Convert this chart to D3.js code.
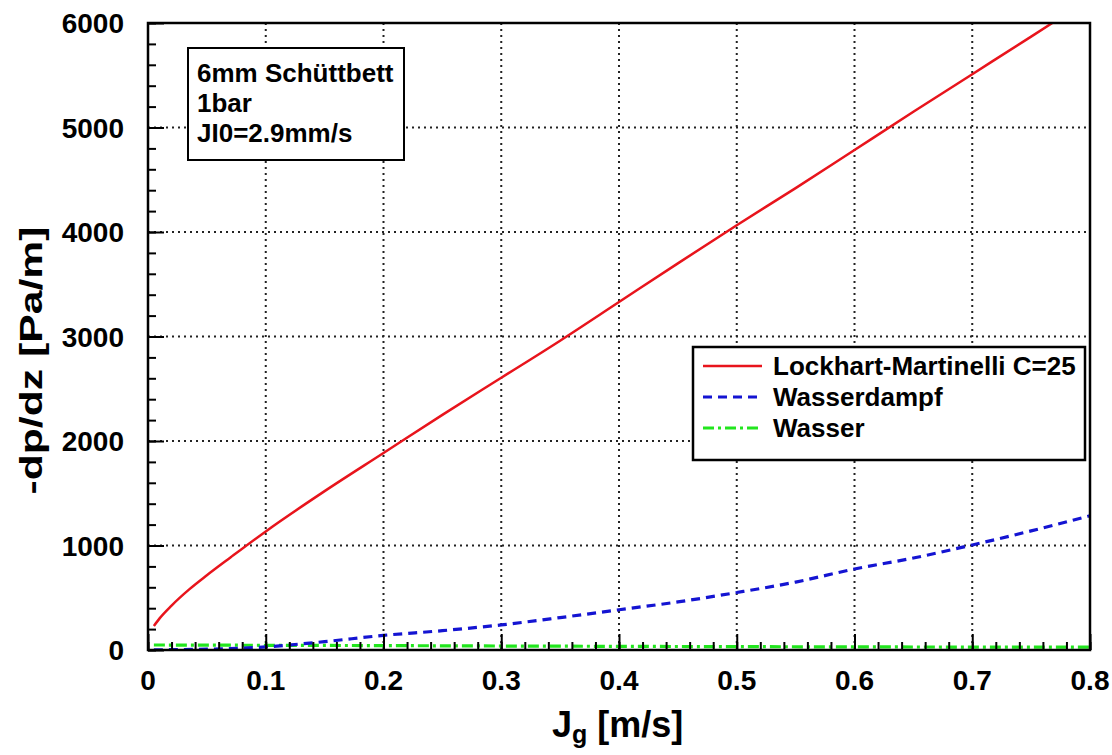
<!DOCTYPE html>
<html>
<head>
<meta charset="utf-8">
<script src="https://cdn.jsdelivr.net/npm/d3@7"></script>
<style>
  body { margin: 0; background: #fff; }
  text { font-family: "Liberation Sans", Arial, sans-serif; font-weight: bold; fill: #000; }
</style>
</head>
<body>
<script>
// Lockhart-Martinelli C=25
let lmX = [0.005, 0.01, 0.02, 0.035, 0.05, 0.07, 0.1, 0.15, 0.2, 0.25, 0.3, 0.35, 0.4, 0.45, 0.5, 0.55, 0.6, 0.65, 0.7, 0.75, 0.768]
let lmY = [230, 305, 425, 580, 715, 885, 1135, 1520, 1885, 2250, 2605, 2960, 3330, 3700, 4065, 4420, 4785, 5150, 5510, 5870, 6000]

// Wasserdampf
let dampfX = [0.005, 0.05, 0.1, 0.15, 0.2, 0.25, 0.3, 0.35, 0.4, 0.45, 0.5, 0.55, 0.6, 0.65, 0.7, 0.75, 0.8]
let dampfY = [2, 8, 30, 80, 140, 185, 240, 310, 385, 460, 550, 650, 775, 880, 1005, 1140, 1285]

// Wasser
let wasserX = [0.005, 0.1, 0.2, 0.3, 0.4, 0.5, 0.6, 0.7, 0.8]
let wasserY = [48, 45, 42, 38, 35, 32, 30, 28, 27]

let xTicks = [0, 0.1, 0.2, 0.3, 0.4, 0.5, 0.6, 0.7, 0.8]
let yTicks = [0, 1000, 2000, 3000, 4000, 5000, 6000]

let seriesNames = ['Lockhart-Martinelli C=25', 'Wasserdampf', 'Wasser']
let infoLines = ['6mm Schüttbett', '1bar', 'JI0=2.9mm/s']

let width = 1112, height = 755
let margin = { top: 23, bottom: 105, left: 148, right: 22 }

let svg = d3.select('body')
            .append('svg')
            .attr('width', width)
            .attr('height', height)

let xScale = d3.scaleLinear()
              .domain([0, 0.8])
              .range([margin.left, width - margin.right])

let yScale = d3.scaleLinear()
              .domain([0, 6000])
              .range([height - margin.bottom, margin.top])

// dotted grid
svg.append('g')
  .selectAll('line')
  .data(xTicks.slice(1, -1))
  .join('line')
  .attr('x1', d => xScale(d)).attr('x2', d => xScale(d))
  .attr('y1', yScale(6000)).attr('y2', yScale(0))
  .attr('stroke', '#222').attr('stroke-width', 2)
  .attr('stroke-dasharray', '2,4')

svg.append('g')
  .selectAll('line')
  .data(yTicks.slice(1, -1))
  .join('line')
  .attr('y1', d => yScale(d)).attr('y2', d => yScale(d))
  .attr('x1', xScale(0)).attr('x2', xScale(0.8))
  .attr('stroke', '#222').attr('stroke-width', 2)
  .attr('stroke-dasharray', '2,4')

// curves
svg.append('clipPath').attr('id', 'plot')
  .append('rect')
  .attr('x', xScale(0)).attr('y', yScale(6000))
  .attr('width', xScale(0.8) - xScale(0))
  .attr('height', yScale(0) - yScale(6000))

let line = d3.line()
            .x(d => xScale(d[0]))
            .y(d => yScale(d[1]))
            .curve(d3.curveMonotoneX)

let styles = [
  { color: '#e8141c', dash: null, w: 2.5 },
  { color: '#1414d2', dash: '9,6', w: 3.2 },
  { color: '#22e61e', dash: '11,4,3,4', w: 3.2 }
]

let series = [
  d3.zip(lmX, lmY),
  d3.zip(dampfX, dampfY),
  d3.zip(wasserX, wasserY)
]

let plot = svg.append('g').attr('clip-path', 'url(#plot)')
series.slice().reverse().forEach((s, i) => {
  let st = styles[2 - i]
  plot.append('path')
    .datum(s)
    .attr('d', line)
    .attr('fill', 'none')
    .attr('stroke', st.color)
    .attr('stroke-width', st.w)
    .attr('stroke-dasharray', st.dash)
})

// axes with inward ticks
let xMinor = d3.range(0, 0.8001, 0.02)
let yMinor = d3.range(0, 6001, 200)

svg.append('g')
  .attr('transform', `translate(0, ${yScale(0)})`)
  .call(d3.axisTop(xScale).tickValues(xMinor).tickSize(8).tickFormat(''))
  .call(g => g.select('.domain').remove())
  .call(g => g.selectAll('line').attr('stroke-width', 2))

svg.append('g')
  .attr('transform', `translate(0, ${yScale(0)})`)
  .call(d3.axisTop(xScale).tickValues(xTicks).tickSize(16).tickFormat(''))
  .call(g => g.select('.domain').remove())
  .call(g => g.selectAll('line').attr('stroke-width', 2))

svg.append('g')
  .attr('transform', `translate(${xScale(0)}, 0)`)
  .call(d3.axisRight(yScale).tickValues(yMinor).tickSize(8).tickFormat(''))
  .call(g => g.select('.domain').remove())
  .call(g => g.selectAll('line').attr('stroke-width', 2))

svg.append('g')
  .attr('transform', `translate(${xScale(0)}, 0)`)
  .call(d3.axisRight(yScale).tickValues(yTicks).tickSize(16).tickFormat(''))
  .call(g => g.select('.domain').remove())
  .call(g => g.selectAll('line').attr('stroke-width', 2))

// frame
svg.append('rect')
  .attr('x', xScale(0)).attr('y', yScale(6000))
  .attr('width', xScale(0.8) - xScale(0))
  .attr('height', yScale(0) - yScale(6000))
  .attr('fill', 'none').attr('stroke', '#000').attr('stroke-width', 2.5)

// tick labels
svg.append('g')
  .selectAll('text')
  .data(xTicks)
  .join('text')
  .attr('x', d => xScale(d))
  .attr('y', yScale(0) + 40)
  .attr('text-anchor', 'middle')
  .style('font-size', '28px')
  .text(d => d3.format('.1~f')(d))

svg.append('g')
  .selectAll('text')
  .data(yTicks)
  .join('text')
  .attr('x', xScale(0) - 24)
  .attr('y', d => yScale(d) + 10)
  .attr('text-anchor', 'end')
  .style('font-size', '28px')
  .text(d => d)

// axis titles
let xt = svg.append('text')
  .attr('x', 552)
  .attr('y', 737)
  .style('font-size', '36px')
xt.append('tspan').text('J')
xt.append('tspan').attr('dy', 6).style('font-size', '25px').text('g')
xt.append('tspan').attr('dy', -6).text(' [m/s]')

svg.append('text')
  .attr('transform', `translate(42, ${(yScale(0) + yScale(6000)) / 2 + 24}) rotate(-90)`)
  .attr('text-anchor', 'middle')
  .attr('textLength', 268)
  .attr('lengthAdjust', 'spacingAndGlyphs')
  .style('font-size', '32px')
  .text('-dp/dz [Pa/m]')

// info box
svg.append('rect')
  .attr('x', 188).attr('y', 48).attr('width', 216).attr('height', 112)
  .attr('fill', '#fff').attr('stroke', '#000').attr('stroke-width', 2)

svg.append('g')
  .selectAll('text')
  .data(infoLines)
  .join('text')
  .attr('x', 197)
  .attr('y', (d, i) => 82 + i * 30)
  .style('font-size', '26px')
  .text(d => d)

// legend
let legend = svg.append('g')
legend.append('rect')
  .attr('x', 693).attr('y', 347).attr('width', 392).attr('height', 113)
  .attr('fill', '#fff').attr('stroke', '#000').attr('stroke-width', 2.5)

seriesNames.forEach((name, i) => {
  let ly = 366 + i * 31
  legend.append('line')
    .attr('x1', 703).attr('x2', 762)
    .attr('y1', ly).attr('y2', ly)
    .attr('stroke', styles[i].color)
    .attr('stroke-width', styles[i].w)
    .attr('stroke-dasharray', styles[i].dash)
  legend.append('text')
    .attr('x', 773)
    .attr('y', ly + 9)
    .style('font-size', '26px')
    .text(name)
})
</script>
</body>
</html>
